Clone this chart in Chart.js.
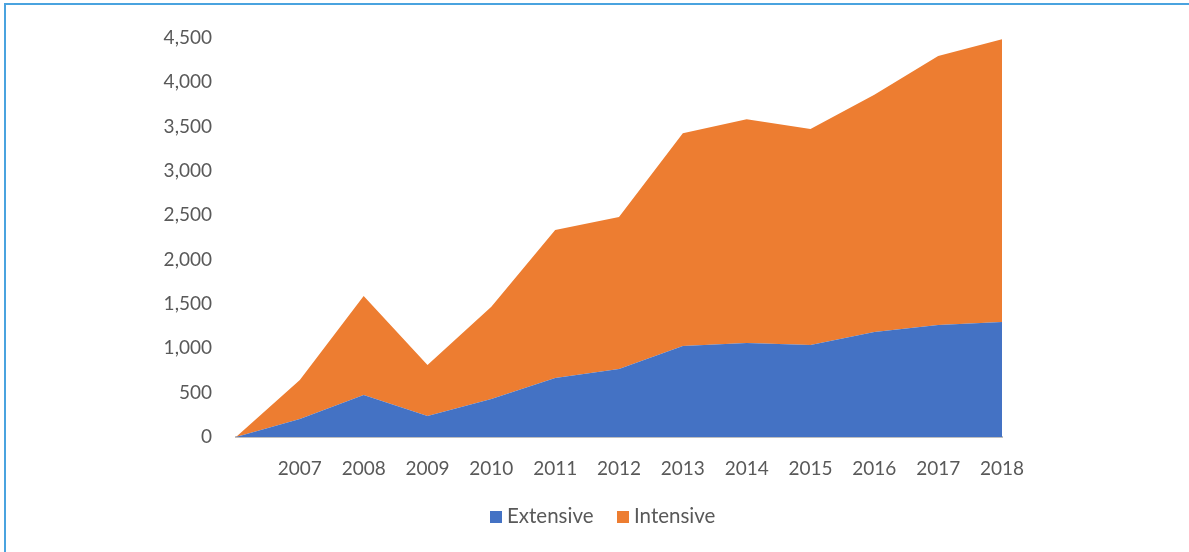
<!DOCTYPE html>
<html>
<head>
<meta charset="utf-8">
<script src="https://cdn.jsdelivr.net/npm/chart.js@4"></script>
<style>
  html, body { margin: 0; padding: 0; background: #fff; }
  #frame {
    position: absolute; left: 4px; top: 3px; width: 1300px; height: 700px;
    border-left: 2px solid #4aa3df; border-top: 2px solid #4aa3df;
  }
  #wrap { position: absolute; left: 0; top: 0; width: 1189px; height: 552px; }
  .legend-item { position: absolute; top: 503px; height: 26px; font: 20.5px Lato, "Open Sans", sans-serif; color: #595959; white-space: nowrap; }
  .legend-box { position: absolute; top: 8px; left: 0; width: 12px; height: 12px; }
  .legend-text { position: absolute; left: 17px; top: 0; line-height: normal; }
</style>
</head>
<body>
<div id="frame"></div>
<div id="wrap"><canvas id="areaChart" width="1189" height="552"></canvas></div>
<div id="legend"></div>
<script>
// chart data
const years = ['', '2007', '2008', '2009', '2010', '2011', '2012', '2013', '2014', '2015', '2016', '2017', '2018'];
const extensive = [0, 203, 474, 237, 429, 665, 767, 1026, 1060, 1038, 1184, 1263, 1297];
const intensive = [0, 440, 1116, 575, 1040, 1670, 1715, 2400, 2525, 2435, 2675, 3035, 3190];
const yTicks = [0, 500, 1000, 1500, 2000, 2500, 3000, 3500, 4000, 4500];
const seriesNames = ['Extensive', 'Intensive'];
const seriesColors = ['#4472c4', '#ed7d31'];

Chart.defaults.font.family = 'Lato, "Open Sans", sans-serif';
Chart.defaults.font.size = 19;
Chart.defaults.color = '#595959';

const ctx = document.getElementById('areaChart').getContext('2d');
new Chart(ctx, {
    type: 'line',
    data: {
        labels: years,
        datasets: [
            {
                label: seriesNames[0],
                data: extensive,
                backgroundColor: seriesColors[0],
                borderColor: seriesColors[0],
                borderWidth: 0,
                pointRadius: 0,
                fill: 'origin',
                tension: 0
            },
            {
                label: seriesNames[1],
                data: intensive,
                backgroundColor: seriesColors[1],
                borderColor: seriesColors[1],
                borderWidth: 0,
                pointRadius: 0,
                fill: '-1',
                tension: 0
            }
        ]
    },
    options: {
        responsive: false,
        animation: false,
        layout: { padding: { left: 0, right: 187, top: 38, bottom: 70 } },
        scales: {
            x: {
                offset: false,
                grid: { display: false, drawTicks: false },
                border: { display: true, color: '#bfbfbf', width: 2 },
                ticks: { padding: 20, maxRotation: 0, autoSkip: false },
                afterFit: s => { s.height = 45; }
            },
            y: {
                stacked: true,
                min: yTicks[0],
                max: yTicks[yTicks.length - 1],
                grid: { display: false, drawTicks: false },
                border: { display: false },
                ticks: { stepSize: 500, padding: 24 },
                afterBuildTicks: s => { s.ticks = yTicks.map(v => ({ value: v })); },
                afterFit: s => { s.width = 236; }
            }
        },
        plugins: {
            legend: { display: false },
            tooltip: { enabled: false }
        }
    }
});

// legend drawn as html so it can sit where the reference puts it
const legendLeft = [490, 617];
const legend = document.getElementById('legend');
seriesNames.forEach((name, i) => {
    legend.innerHTML += `<div class="legend-item" style="left:${legendLeft[i]}px">
        <span class="legend-box" style="background:${seriesColors[i]}"></span>
        <span class="legend-text">${name}</span>
    </div>`;
});
</script>
</body>
</html>
